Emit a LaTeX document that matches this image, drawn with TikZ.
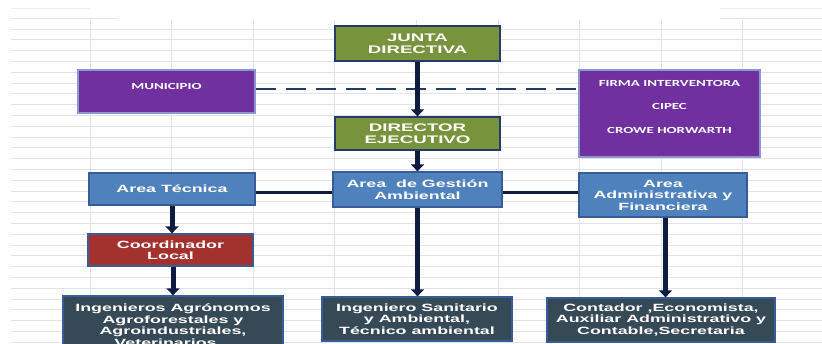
\documentclass[tikz,border=0pt]{standalone}
\usepackage{fontspec}
\usetikzlibrary{arrows.meta,calc}
\newfontfamily\boxfont{Liberation Sans}[FakeStretch=1.7]
\newfontfamily\calfont{Carlito}[FakeStretch=1.6]
\definecolor{gridc}{RGB}{224,226,236}
\definecolor{jgreen}{RGB}{119,147,60}
\definecolor{jpurple}{RGB}{112,48,160}
\definecolor{jblue}{RGB}{79,129,189}
\definecolor{jred}{RGB}{163,50,46}
\definecolor{jslate}{RGB}{54,73,86}
\definecolor{bnavy}{RGB}{38,58,108}
\definecolor{bblue}{RGB}{56,93,150}
\definecolor{blav}{RGB}{140,150,210}
\definecolor{arrnavy}{RGB}{14,28,66}
\definecolor{dashc}{RGB}{30,60,100}
\tikzset{
  box/.style={draw, line width=1.3pt, text=white, align=center, inner sep=0pt,
    font=\boxfont\bfseries\fontsize{10.5}{11.5}\selectfont},
  greenbox/.style={box, fill=jgreen, draw=bnavy, font=\boxfont\bfseries\fontsize{11}{12}\selectfont},
  bluebox/.style={box, fill=jblue, draw=bblue},
  redbox/.style={box, fill=jred, draw=bblue},
  slatebox/.style={box, fill=jslate, draw=bblue},
  purplebox/.style={draw=blav, line width=1.2pt, fill=jpurple, inner sep=0pt},
  ptext/.style={text=white, align=center, inner sep=0pt,
    font=\calfont\bfseries\fontsize{9.3}{9.5}\selectfont},
  arr/.style={draw=arrnavy, line width=5pt, -{Triangle[width=13pt,length=7pt]}},
  conn/.style={draw=arrnavy, line width=3pt},
  dashline/.style={draw=dashc, line width=2.8pt, dash pattern=on 20pt off 10pt}
}
\begin{document}
\begin{tikzpicture}[x=1pt,y=-1pt]
\useasboundingbox (0,0) rectangle (822,343);
\clip (0,0) rectangle (822,343);
\fill[white] (0,0) rectangle (822,343);
% spreadsheet grid
\foreach \y in {29,39.8,...,343} \draw[gridc, line width=0.8pt] (11,\y) -- (822,\y);
\foreach \x in {90,171.6,...,744} \draw[gridc, line width=0.8pt] (\x,20) -- (\x,343);
\draw[gridc, line width=0.8pt] (11,18) -- (117,18);
\draw[gridc!60, line width=0.8pt] (11,8) -- (90,8);
\draw[gridc, line width=0.8pt] (720,18) -- (822,18);
\draw[gridc!60, line width=0.8pt] (720,8) -- (822,8);

% boxes
\node[greenbox, minimum width=165, minimum height=35] (junta) at (417.5,43.5) {JUNTA\\DIRECTIVA};
\node[greenbox, minimum width=165, minimum height=33] (director) at (417.5,133.5) {DIRECTOR\\EJECUTIVO};
\node[purplebox, minimum width=177, minimum height=43] (mun) at (166.5,91.5) {};
\node[ptext] (muntxt) at (166.5,86) {MUNICIPIO};
\node[purplebox, minimum width=181, minimum height=87] (firma) at (669.5,113.5) {};
\node[ptext] (firmatxt) at (669.5,106.5) {FIRMA INTERVENTORA\\[14pt]CIPEC\\[14pt]CROWE HORWARTH};
\node[bluebox, minimum width=166, minimum height=32] (tecnica) at (172,189) {Area T\'ecnica};
\node[bluebox, minimum width=169, minimum height=35] (gestion) at (417.5,189.5) {Area\ \ de Gesti\'on\\Ambiental};
\node[bluebox, minimum width=168, minimum height=44] (admin) at (663,195) {Area\\Administrativa y\\Financiera};
\node[redbox, minimum width=165, minimum height=32] (coord) at (170.5,250) {Coordinador\\Local};
\node[slatebox, minimum width=220, minimum height=58] (ingag) at (173,325) {Ingenieros Agr\'onomos\\Agroforestales y\\Agroindustriales,\\Veterinarios...};
\node[slatebox, minimum width=190, minimum height=44] (ingsan) at (417,319) {Ingeniero Sanitario\\y Ambiental,\\T\'ecnico ambiental};
\node[slatebox, minimum width=228, minimum height=44] (contador) at (661,320) {Contador ,Economista,\\Auxiliar Administrativo y\\Contable,Secretaria};

% connector end points
\coordinate (dashA) at ($(mun.east)+(0,-2.5)$);
\coordinate (dashB) at (dashA -| firma.west);
\coordinate (techA) at ($(tecnica.east)+(0,3)$);
\coordinate (techB) at (techA -| gestion.west);
\coordinate (gesA) at ($(gestion.east)+(0,2.5)$);
\coordinate (gesB) at (gesA -| admin.west);
\coordinate (coordA) at ($(coord.south)+(2.5,0)$);
\coordinate (coordB) at (coordA |- ingag.north);
\coordinate (admA) at ($(admin.south)+(2.5,0)$);
\coordinate (admB) at (admA |- contador.north);

% connectors
\draw[dashline] (dashA) -- (dashB);
\draw[arr] (junta.south) -- (director.north);
\draw[arr] (director.south) -- (gestion.north);
\draw[conn] (techA) -- (techB);
\draw[conn] (gesA) -- (gesB);
\draw[arr] (tecnica.south) -- (tecnica.south |- coord.north);
\draw[arr] (coordA) -- (coordB);
\draw[arr] (gestion.south) -- (gestion.south |- ingsan.north);
\draw[arr] (admA) -- (admB);
\end{tikzpicture}
\end{document}
